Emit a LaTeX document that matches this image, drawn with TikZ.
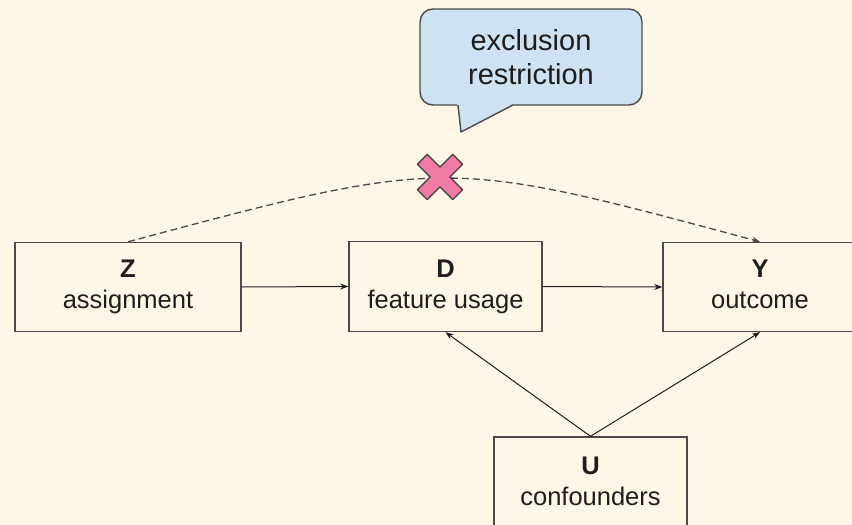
\documentclass[tikz,border=0pt]{standalone}
\usepackage{fontspec}
\setmainfont{Liberation Sans}
\usetikzlibrary{arrows.meta}
\definecolor{paper}{HTML}{FEF7E6}
\definecolor{edge}{HTML}{4A4A4A}
\definecolor{ink}{HTML}{1E1E1E}
\definecolor{bubble}{HTML}{CFE2F3}
\definecolor{crossfill}{HTML}{F27BA6}
\tikzset{
  var/.style={draw=edge, line width=1.4pt, fill=paper, text=ink, align=center,
    font=\fontsize{25.5}{31}\selectfont, inner sep=0pt},
  link/.style={draw=ink, line width=1pt, -{Stealth[length=8pt,width=6pt]}},
  excl/.style={draw=edge, line width=1.3pt, dash pattern=on 7pt off 4pt,
    -{Stealth[length=8pt,width=6pt]}},
  callout/.style={draw=edge, line width=1.4pt, fill=bubble, rounded corners=13pt,
    text=ink, align=center, font=\fontsize{29}{34}\selectfont,
    minimum width=222pt, minimum height=96pt, inner sep=0pt}
}
\newcommand{\twolines}[2]{\textbf{#1}\strut\\#2\strut}
\begin{document}
\begin{tikzpicture}[x=1pt,y=-1pt]
  \fill[paper] (0,0) rectangle (852,525);
  \useasboundingbox (0,0) rectangle (852,525);
  \clip (0,0) rectangle (852,525);

  % variables
  \node[var, minimum width=226pt, minimum height=89pt] (Z) at (128,287)
    {\twolines{Z}{assignment}};
  \node[var, minimum width=193pt, minimum height=90pt] (D) at (445.5,286.5)
    {\twolines{D}{feature usage}};
  \node[var, minimum width=194pt, minimum height=89pt] (Y) at (760,287)
    {\twolines{Y}{outcome}};
  \node[var, minimum width=193pt, minimum height=94pt] (U) at (590.5,484)
    {\twolines{U}{confounders}};

  % causal links
  \draw[link] (Z.east) -- (D.west);
  \draw[link] (D.east) -- (Y.west);
  \draw[link] (U.north) -- (D.south);
  \draw[link] (U.north) -- (Y.south);

  % excluded direct path from Z to Y
  \draw[excl] (Z.north) .. controls (445,157) .. (Y.north);

  % cross marking the excluded path
  \begin{scope}[shift={(440,177)}, rotate=45]
    \filldraw[fill=crossfill, draw=edge, line width=1.4pt, line join=round]
      (7,7) -- (25,7) -- (25,-7) -- (7,-7) -- (7,-25) -- (-7,-25)
      -- (-7,-7) -- (-25,-7) -- (-25,7) -- (-7,7) -- (-7,25) -- (7,25) -- cycle;
  \end{scope}

  % speech bubble
  \node[callout] (note) at (531,57) {exclusion\\restriction};
  \coordinate (tip) at (461,132);
  \fill[bubble] (457,103) -- (tip) -- (515,103) -- cycle;
  \draw[edge, line width=1.4pt, line join=round] (458,105) -- (tip) -- (513,105);
\end{tikzpicture}
\end{document}
